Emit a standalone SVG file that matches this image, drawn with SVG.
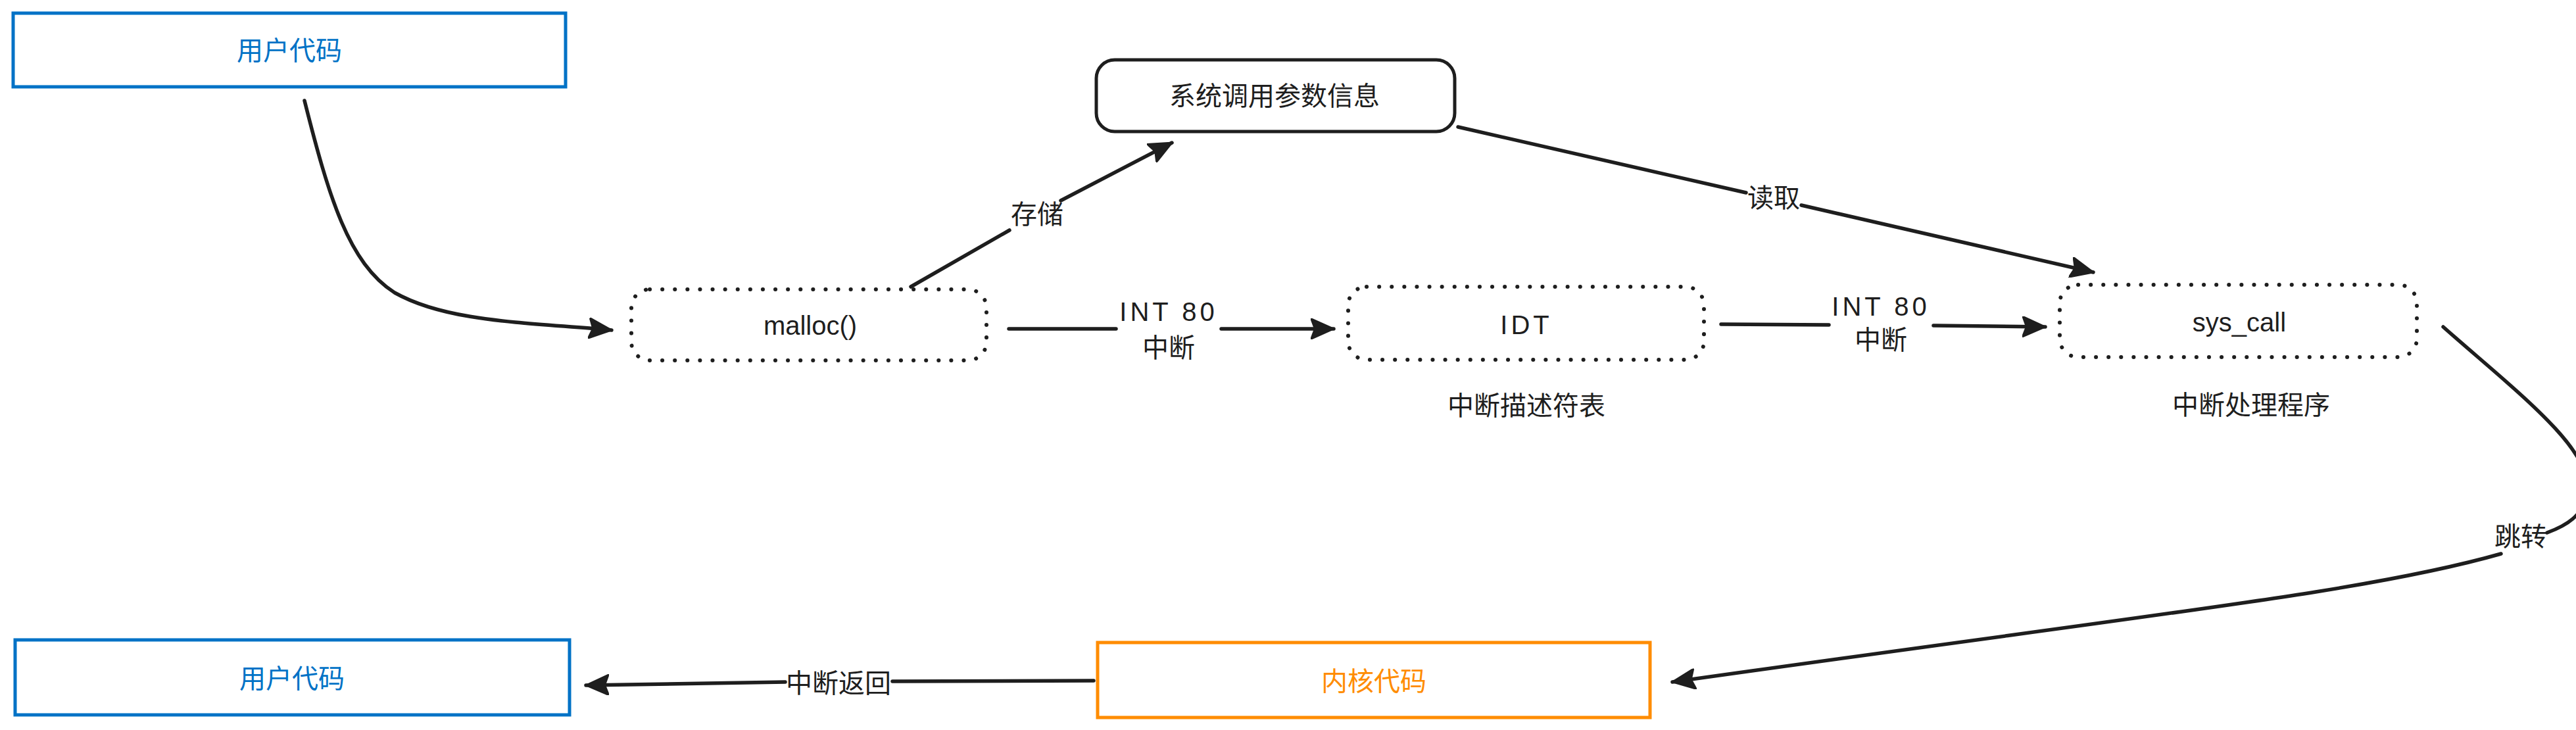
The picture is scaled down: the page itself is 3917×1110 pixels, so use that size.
<svg xmlns="http://www.w3.org/2000/svg" width="3917" height="1110" viewBox="0 0 3917 1110">
<style>
.cjk{font-family:"Noto Sans CJK SC","Noto Sans",sans-serif;font-size:40px;fill:#1e1e1e;text-anchor:middle;dominant-baseline:central}
.hand{font-family:"Liberation Sans","DejaVu Sans",sans-serif;font-size:40px;fill:#1e1e1e;text-anchor:middle;dominant-baseline:central}
.wide{letter-spacing:5px}
.blue{fill:#0072c6}
.orange{fill:#ff8c00}
.box-blue{fill:#ffffff;stroke:#0072c6;stroke-width:5}
.box-orange{fill:#ffffff;stroke:#ff8c00;stroke-width:5}
.box-solid{fill:#ffffff;stroke:#1e1e1e;stroke-width:5}
.box-dotted{fill:#ffffff;stroke:#1e1e1e;stroke-width:6;stroke-dasharray:0.1 19;stroke-linecap:round}
.edge{fill:none;stroke:#1e1e1e;stroke-width:5.5;stroke-linecap:round;stroke-linejoin:round}
</style>
<defs>
<marker id="ah" markerUnits="userSpaceOnUse" viewBox="0 0 36 32" refX="35" refY="16" markerWidth="36" markerHeight="32" orient="auto">
<path d="M0,0 L36,16 L0,32 L6,16 Z" fill="#1e1e1e" stroke="#1e1e1e" stroke-width="2" stroke-linejoin="round"/>
</marker>
</defs>
<rect width="3917" height="1110" fill="#ffffff"/>

<g id="user-code-top">
<rect class="box-blue" x="20" y="20" width="840" height="112"/>
<text class="cjk blue" x="440" y="74">用户代码</text>
</g>

<g id="syscall-params">
<rect class="box-solid" x="1667" y="91" width="545" height="109" rx="28"/>
<text class="cjk" x="1938" y="143">系统调用参数信息</text>
</g>

<g id="malloc">
<rect class="box-dotted" x="960" y="440" width="540" height="108" rx="28"/>
<text class="hand" x="1232" y="495">malloc()</text>
</g>

<g id="idt">
<rect class="box-dotted" x="2050" y="436" width="541" height="111" rx="28"/>
<text class="hand wide" x="2321" y="494">IDT</text>
<text class="cjk" x="2321" y="614">中断描述符表</text>
</g>

<g id="sys-call">
<rect class="box-dotted" x="3132" y="433" width="543" height="110" rx="28"/>
<text class="hand" x="3405" y="490">sys_call</text>
<text class="cjk" x="3423" y="613">中断处理程序</text>
</g>

<g id="kernel-code">
<rect class="box-orange" x="1669" y="977" width="840" height="114"/>
<text class="cjk orange" x="2089" y="1033">内核代码</text>
</g>

<g id="user-code-bottom">
<rect class="box-blue" x="23" y="973" width="843" height="114"/>
<text class="cjk blue" x="444" y="1029">用户代码</text>
</g>

<g id="connectors">
<path class="edge" d="M463 153 C500 300,530 400,600 445 C680 490,800 490,930 502" marker-end="url(#ah)"/>

<path class="edge" d="M1385 436 L1535 350"/>
<path class="edge" d="M1613 305 L1782 217" marker-end="url(#ah)"/>
<text class="cjk" x="1577" y="323">存储</text>

<path class="edge" d="M1534 500 L1697 500"/>
<path class="edge" d="M1857 500 L2028 500" marker-end="url(#ah)"/>
<text class="hand wide" x="1777" y="474">INT 80</text>
<text class="cjk" x="1777" y="526">中断</text>

<path class="edge" d="M2617 493 L2781 494"/>
<path class="edge" d="M2940 495 L3110 497" marker-end="url(#ah)"/>
<text class="hand wide" x="2860" y="466">INT 80</text>
<text class="cjk" x="2860" y="514">中断</text>

<path class="edge" d="M2217 193 L2655 293"/>
<path class="edge" d="M2739 312 L3183 414" marker-end="url(#ah)"/>
<text class="cjk" x="2697" y="298">读取</text>

<path class="edge" d="M3715 497 C3820 590,3940 680,3935 745 C3930 785,3900 800,3873 810"/>
<path class="edge" d="M3803 842 C3600 900,3300 930,2543 1037" marker-end="url(#ah)"/>
<text class="cjk" x="3833" y="813">跳转</text>

<path class="edge" d="M1663 1035 L1357 1036"/>
<path class="edge" d="M1194 1037 L891 1042" marker-end="url(#ah)"/>
<text class="cjk" x="1275" y="1036">中断返回</text>
</g>
</svg>
